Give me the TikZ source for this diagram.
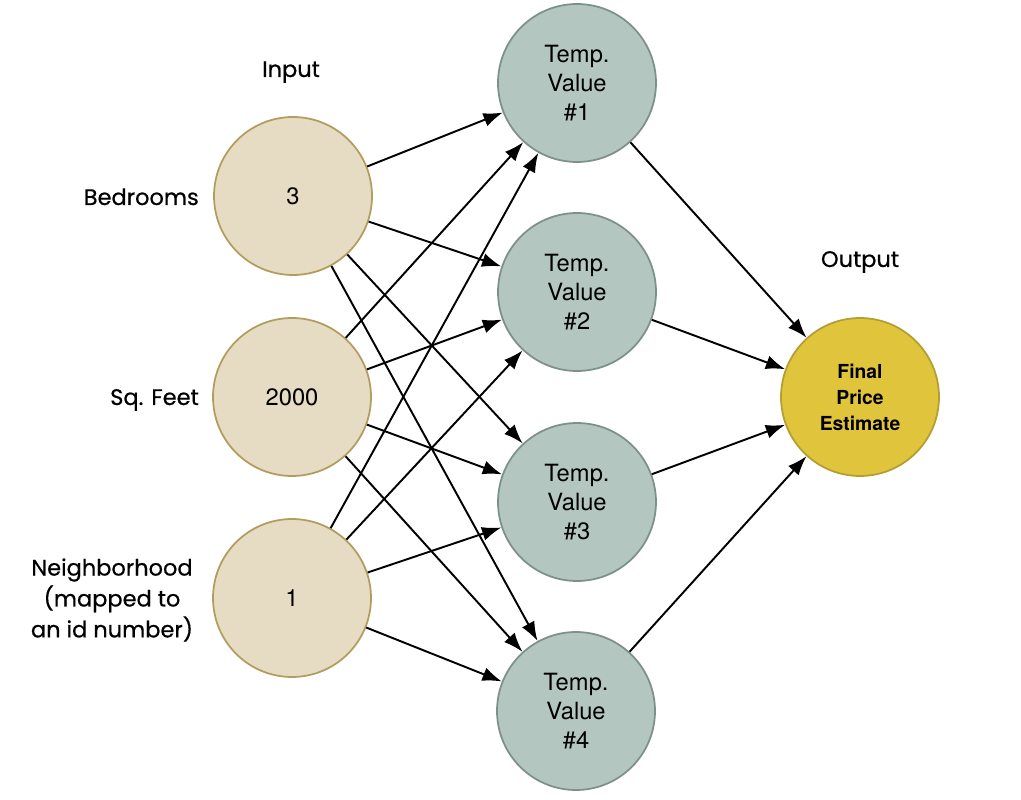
\documentclass[tikz,border=0pt]{standalone}
\usepackage{fontspec}
\setmainfont{TeX Gyre Heros}
\newfontfamily\lblfont[FakeBold=0.6]{Poppins}
\usetikzlibrary{arrows.meta}
\definecolor{inbg}{HTML}{E6DCC4}
\definecolor{inln}{HTML}{B29C5E}
\definecolor{tvbg}{HTML}{B3C7C0}
\definecolor{tvln}{HTML}{7D918A}
\definecolor{outbg}{HTML}{E0C43C}
\definecolor{outln}{HTML}{B39E32}
\tikzset{
  bub/.style={circle,line width=1pt,minimum size=3.16cm,inner sep=0pt,align=center},
  inpt/.style={bub,draw=inln,fill=inbg,font=\fontsize{13.5}{16.5}\selectfont},
  tval/.style={bub,draw=tvln,fill=tvbg,font=\fontsize{13.5}{16.5}\selectfont},
  outp/.style={bub,draw=outln,fill=outbg,font=\fontsize{11}{14.8}\selectfont\bfseries},
  lbl/.style={font=\lblfont\fontsize{12.8}{17.6}\selectfont,align=center},
  arr/.style={-{Latex[length=11pt,width=8pt]},line width=1.1pt}
}
\begin{document}
\begin{tikzpicture}[x=0.02cm,y=-0.02cm]
  \useasboundingbox (0,0) rectangle (1021,800);
  % input layer
  \node[inpt] (in1) at (293,196) {3};
  \node[inpt] (in2) at (292,397) {2000};
  \node[inpt] (in3) at (292,598) {1};
  % hidden layer
  \node[tval] (tv1) at (577,83) {Temp.\\Value\\\#1};
  \node[tval] (tv2) at (577,292) {Temp.\\Value\\\#2};
  \node[tval] (tv3) at (577,502) {Temp.\\Value\\\#3};
  \node[tval] (tv4) at (576,711) {Temp.\\Value\\\#4};
  % output
  \node[outp] (est) at (860,397) {Final\\Price\\Estimate};
  % labels
  \node[lbl,anchor=base] (lin) at (291,77) {Input};
  \node[lbl,anchor=base] (lout) at (860,267) {Output};
  \node[lbl,anchor=base east] (lbed) at (205,205) {Bedrooms};
  \node[lbl,anchor=base east] (lsq) at (205,405) {Sq. Feet};
  \node[lbl] (lnb) at (112,600) {Neighborhood\\(mapped to\\an id number)};
  % connections
  \foreach \i in {1,2,3}
    \foreach \j in {1,...,4}
      \draw[arr] (in\i) -- (tv\j);
  \foreach \j in {1,...,4}
    \draw[arr] (tv\j) -- (est);
\end{tikzpicture}
\end{document}
